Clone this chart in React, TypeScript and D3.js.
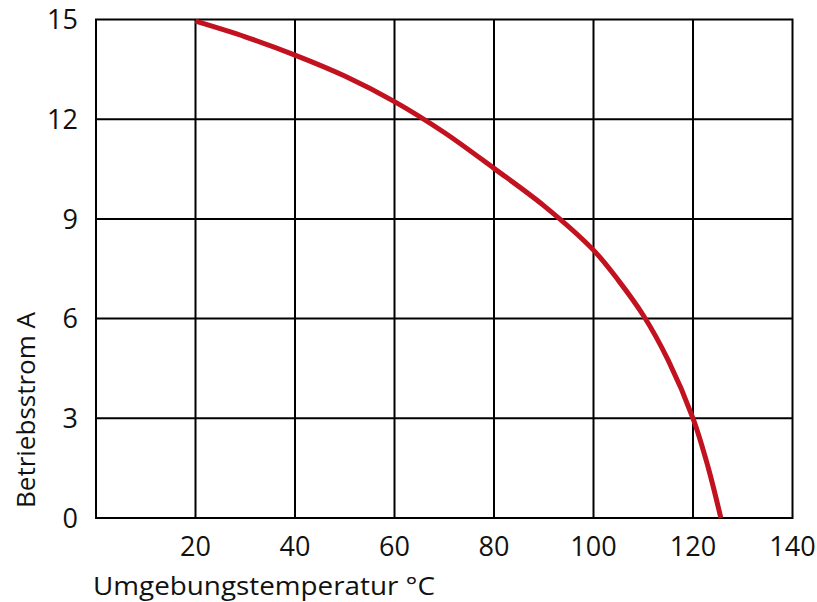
import React from "react";
import * as d3 from "d3";

const temperatures = [20, 30, 40, 50, 60, 70, 80, 90, 100, 105, 110, 115, 120, 123, 125.6];
const currents = [14.95, 14.48, 13.93, 13.3, 12.53, 11.6, 10.52, 9.4, 8.06, 7.15, 6.1, 4.75, 3.0, 1.55, 0];
const xTicks = [20, 40, 60, 80, 100, 120, 140];
const yTicks = [0, 3, 6, 9, 12, 15];
const xTitle = "Umgebungstemperatur °C";
const yTitle = "Betriebsstrom A";

const W = 817;
const H = 602;
const left = 96;
const right = 792.5;
const top = 19.5;
const bottom = 518;
const FONT = "'Open Sans', 'Noto Sans', sans-serif";

export default function App() {
  const x = d3.scaleLinear().domain([0, 140]).range([left, right]);
  const y = d3.scaleLinear().domain([0, 15]).range([bottom, top]);
  const pts = temperatures.map((t, i) => [t, currents[i]] as [number, number]);
  const line = d3
    .line<[number, number]>()
    .x((d) => x(d[0]))
    .y((d) => y(d[1]))
    .curve(d3.curveCatmullRom.alpha(0.5));

  return (
    <svg width={W} height={H} style={{ position: "absolute", left: 0, top: 0, background: "#fff" }}>
      <rect x={0} y={0} width={W} height={H} fill="#fff" />
      {xTicks.slice(0, -1).map((t) => (
        <line key={"vx" + t} x1={x(t)} x2={x(t)} y1={top} y2={bottom} stroke="#000" strokeWidth={2} />
      ))}
      {yTicks.slice(1, -1).map((t) => (
        <line key={"hy" + t} x1={left} x2={right} y1={y(t)} y2={y(t)} stroke="#000" strokeWidth={2} />
      ))}
      <rect x={left} y={top} width={right - left} height={bottom - top} fill="none" stroke="#000" strokeWidth={2} />
      <path d={line(pts) || ""} fill="none" stroke="#c2121f" strokeWidth={5} strokeLinecap="butt" />
      {yTicks.map((t) => (
        <text key={"yl" + t} x={78} y={y(t)} dy="0.36em" textAnchor="end" fontFamily={FONT} fontSize={27} fill="#111">
          {t}
        </text>
      ))}
      {xTicks.map((t) => (
        <text key={"xl" + t} x={x(t)} y={556} textAnchor="middle" fontFamily={FONT} fontSize={27} fill="#111">
          {t}
        </text>
      ))}
      <text x={93} y={595} fontFamily={FONT} fontSize={26} fill="#111" textLength={342} lengthAdjust="spacingAndGlyphs">
        {xTitle}
      </text>
      <text
        transform={`translate(35, 410) rotate(-90)`}
        textAnchor="middle"
        fontFamily={FONT}
        fontSize={26}
        fill="#111"
        textLength={196}
        lengthAdjust="spacingAndGlyphs"
      >
        {yTitle}
      </text>
    </svg>
  );
}
